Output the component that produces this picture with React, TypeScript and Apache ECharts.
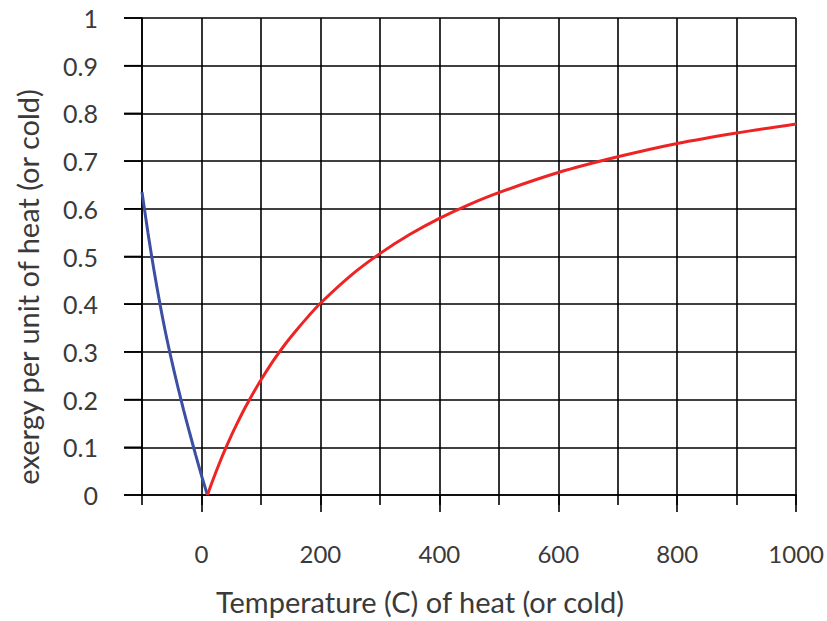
import React, { useEffect, useRef } from "react";
import * as echarts from "echarts";

const coldTemps = [-100, -90, -80, -70, -60, -50, -40, -30, -20, -10, 0, 10];
const coldExergy = [0.635, 0.55, 0.472, 0.402, 0.338, 0.281, 0.228, 0.178, 0.131, 0.085, 0.041, 0];

const heatTemps = [10, 20, 30, 40, 50, 60, 70, 80, 90, 100, 120, 140, 160, 180, 200, 250, 300, 350, 400, 450, 500, 600, 700, 800, 900, 1000];
const heatExergy = [0, 0.034, 0.066, 0.096, 0.124, 0.15, 0.175, 0.198, 0.22, 0.241, 0.28, 0.315, 0.346, 0.375, 0.402, 0.459, 0.506, 0.546, 0.58, 0.609, 0.634, 0.676, 0.709, 0.737, 0.759, 0.778];

const xMajorTicks = [0, 200, 400, 600, 800, 1000];
const yTickValues = [0, 0.1, 0.2, 0.3, 0.4, 0.5, 0.6, 0.7, 0.8, 0.9, 1];

const xTitle = "Temperature (C) of heat (or cold)";
const yTitle = "exergy per unit of heat (or cold)";

const FONT = "Lato, 'Open Sans', sans-serif";
const TEXT = "#3a3a3a";
const LINE = { color: "#000", width: 1.6 };
const GRID_LEFT = 142;

export default function App() {
  const ref = useRef<HTMLDivElement>(null);
  useEffect(() => {
    if (!ref.current) return;
    const chart = echarts.init(ref.current, null, { renderer: "svg" });
    chart.setOption({
      animation: false,
      backgroundColor: "#fff",
      grid: { left: GRID_LEFT, right: 28, top: 18, bottom: 126, containLabel: false },
      xAxis: [
        {
          type: "value",
          min: -100,
          max: 1000,
          interval: 100,
          axisLine: { show: true, onZero: false, lineStyle: { ...LINE } },
          axisTick: { show: true, inside: false, length: 10, lineStyle: { ...LINE } },
          axisLabel: { show: false },
          splitLine: { show: true, lineStyle: { ...LINE } },
        },
        {
          type: "value",
          position: "bottom",
          min: -100,
          max: 1000,
          axisLine: { show: false, onZero: false },
          axisTick: { show: true, inside: false, length: 17, lineStyle: { ...LINE }, customValues: xMajorTicks },
          axisLabel: {
            show: true,
            customValues: xMajorTicks,
            margin: 46,
            fontFamily: FONT,
            fontSize: 24,
            color: TEXT,
            formatter: (v: number) => String(v),
          },
          splitLine: { show: false },
        },
      ],
      yAxis: {
        type: "value",
        min: 0,
        max: 1,
        interval: 0.1,
        axisLine: { show: true, onZero: false, lineStyle: { ...LINE } },
        axisTick: { show: true, inside: false, length: 18, lineStyle: { ...LINE } },
        axisLabel: {
          margin: 44,
          fontFamily: FONT,
          fontSize: 25,
          color: TEXT,
          formatter: (v: number) => (v === 0 ? "0" : v === 1 ? "1" : v.toFixed(1)),
        },
        splitLine: { show: true, lineStyle: { ...LINE } },
      },
      series: [
        {
          type: "line",
          xAxisIndex: 0,
          data: coldTemps.map((t, i) => [t, coldExergy[i]]),
          smooth: 0.3,
          showSymbol: false,
          lineStyle: { color: "#3b4fa3", width: 3 },
          z: 5,
        },
        {
          type: "line",
          xAxisIndex: 0,
          data: heatTemps.map((t, i) => [t, heatExergy[i]]),
          smooth: 0.3,
          showSymbol: false,
          lineStyle: { color: "#ee2424", width: 3 },
          z: 5,
        },
      ],
    });
    const stubs = yTickValues.map((v) => {
      const py = chart.convertToPixel({ yAxisIndex: 0 }, v) as number;
      return {
        type: "line",
        shape: { x1: GRID_LEFT - 18, y1: py, x2: GRID_LEFT, y2: py },
        style: { stroke: "#000", lineWidth: 1.6 },
        silent: true,
      };
    });
    chart.setOption({
      graphic: [
        ...stubs,
        {
          type: "text",
          x: 420,
          y: 601,
          style: {
            text: xTitle,
            font: `29px ${FONT}`,
            fill: TEXT,
            align: "center",
            verticalAlign: "middle",
          },
        },
        {
          type: "text",
          x: 27,
          y: 287,
          rotation: Math.PI / 2,
          style: {
            text: yTitle,
            font: `29px ${FONT}`,
            fill: TEXT,
            align: "center",
            verticalAlign: "middle",
          },
        },
      ],
    });
    return () => chart.dispose();
  }, []);
  return (
    <div
      ref={ref}
      style={{ position: "fixed", left: 0, top: 0, width: 827, height: 621, background: "#fff" }}
    />
  );
}
